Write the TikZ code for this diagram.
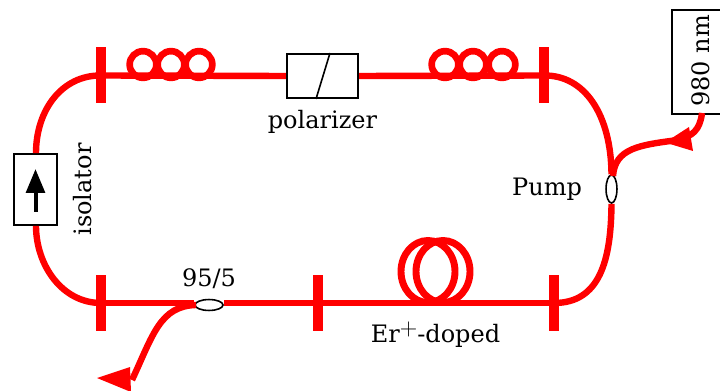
\documentclass[tikz,border=0pt]{standalone}
\usepackage{fontspec}
\usetikzlibrary{shapes.geometric,arrows.meta,calc}
\setmainfont{DejaVu Serif}
\tikzset{
  x=0.75pt,y=-0.75pt,
  fiber/.style={draw=red,line width=4.8pt},
  barv/.style={fill=red,inner sep=0pt,minimum width=7pt,minimum height=42pt},
  bbox/.style={draw=black,line width=1.5pt,fill=white,inner sep=0pt},
  couple/.style={ellipse,draw=black,line width=1.2pt,fill=white,inner sep=0pt},
  loopc/.style={circle,draw=red,line width=5pt,inner sep=0pt,minimum size=20pt},
  erloop/.style={ellipse,draw=red,line width=5.2pt,inner sep=0pt,minimum width=40.5pt,minimum height=46.5pt},
  lbl/.style={inner sep=0pt,font=\fontsize{18pt}{21pt}\selectfont},
  tip/.style={fill=red,draw=none},
}
\begin{document}
\begin{tikzpicture}
\useasboundingbox (0,0) rectangle (720,391);
\clip (0,0) rectangle (720,391);
% bars
\node[barv] (b1) at (101,75.5) {};
\node[barv] (b2) at (544,75.5) {};
\node[barv] (b3) at (101,303) {};
\node[barv] (b4) at (318,303) {};
\node[barv] (b5) at (554,303) {};
% components
\node[bbox,minimum width=32.5pt,minimum height=53pt] (iso) at (35.5,189.5) {};
\node[bbox,minimum width=53.5pt,minimum height=33pt] (pol) at (322.5,76) {};
\node[bbox,minimum width=39pt,minimum height=78pt,anchor=north west] (las) at (671,9) {};
\node[couple,minimum width=8.2pt,minimum height=21pt] (pc) at (611.5,189) {};
\node[couple,minimum width=21pt,minimum height=8.2pt] (oc) at (209,305) {};
% fibre
\draw[fiber] (b1.center) -- (pol.west);
\draw[fiber] (pol.east) -- (b2.center);
\draw[fiber] (b3.center) -- (b3.center -| oc.west);
\draw[fiber] (oc.east |- b4.center) -- (b5.center);
\draw[fiber] (b1.center) .. controls (62,75) and (36,110) .. (iso.north -| 36,154);
\draw[fiber] (iso.south -| 36,225) .. controls (36,265) and (62,303) .. (b3.center);
\draw[fiber] (b2.center) .. controls (585,75) and (611,115) .. (pc.north);
\draw[fiber] (pc.south) .. controls (611,260) and (600,303) .. (b5.center);
% loops
\node[loopc] (l1) at (143,64.5) {};
\node[loopc] (l2) at (171,64.5) {};
\node[loopc] (l3) at (199,64.5) {};
\node[loopc] (l4) at (445,64.5) {};
\node[loopc] (l5) at (473,64.5) {};
\node[loopc] (l6) at (502,64.5) {};
\node[erloop] (e1) at (428,271.5) {};
\node[erloop] (e2) at (443,271.5) {};
% pump branch
\coordinate (pt) at (665,142.5);
\coordinate (ln) at (702,113);
\coordinate (pj) at (613,176);
\draw[fiber] (ln) .. controls (700,130) and (692,137) .. (678,139);
\draw[fiber] (678,140) .. controls (640,145) and (615,148) .. (pj);
\fill[tip] (pt) -- (689,127) -- (693,151) -- cycle;
% output branch
\coordinate (oj) at (196,305);
\coordinate (ot) at (132,380);
\draw[fiber] (oj) .. controls (160,306) and (153,335) .. (ot);
\fill[tip] (97,378) -- (130,367) -- (131,392) -- cycle;
% box contents
\draw[black,line width=1.2pt] ($(pol.south)+(-6.5,0)$) -- ($(pol.north)+(7.5,0)$);
\coordinate (a1) at (35.5,212);
\coordinate (a2) at (35.5,169);
\draw[-{Triangle[length=18pt,width=14pt]},black,line width=3pt] (a1) -- (a2);
% labels
\node[lbl,rotate=90] (t1) at (83,189.5) {isolator};
\node[lbl] (t2) at (322.5,122) {polarizer};
\node[lbl] (t3) at (547,189.5) {Pump};
\node[lbl] (t4) at (209,279) {95/5};
\node[lbl,anchor=base] (t5) at (435.5,342) {Er\raisebox{0.55ex}{\scalebox{1.05}{$+$}}-doped};
\node[lbl,rotate=90] (t6) at (701,61) {980 nm};
\end{tikzpicture}
\end{document}
